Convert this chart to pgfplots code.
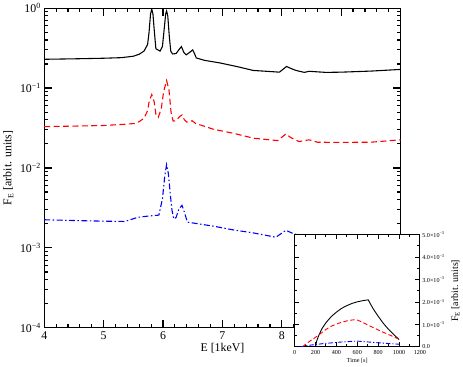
\documentclass[border=0pt]{standalone}
\usepackage{fontspec}
\setmainfont{Liberation Serif}
\usepackage{pgfplots}
\pgfplotsset{compat=1.18}

% main spectrum curves (E in keV, flux)
\pgfplotstableread{
x y
4.0 0.229
4.5 0.232
5.0 0.236
5.3 0.240
5.5 0.250
5.6 0.265
5.68 0.29
5.74 0.35
5.765 0.5
5.79 0.85
5.81 0.97
5.83 0.85
5.855 0.5
5.88 0.31
5.95 0.29
5.99 0.33
6.02 0.55
6.045 0.85
6.06 0.92
6.08 0.8
6.105 0.45
6.13 0.29
6.16 0.267
6.22 0.27
6.28 0.31
6.31 0.33
6.35 0.28
6.39 0.26
6.45 0.28
6.5 0.30
6.53 0.27
6.56 0.238
6.7 0.222
6.96 0.206
7.24 0.186
7.52 0.166
7.8 0.161
7.96 0.158
8.08 0.186
8.16 0.175
8.24 0.166
8.38 0.157
8.46 0.162
8.74 0.157
9.0 0.158
9.5 0.163
10.0 0.171
}\blackE
\pgfplotstableread{
x y
4.0 0.0329
4.5 0.0334
5.0 0.0340
5.35 0.0352
5.52 0.036
5.6 0.038
5.68 0.042
5.74 0.052
5.77 0.07
5.81 0.083
5.85 0.068
5.88 0.047
5.92 0.043
5.97 0.055
6.01 0.09
6.06 0.124
6.1 0.095
6.135 0.05
6.17 0.0386
6.22 0.039
6.28 0.044
6.32 0.046
6.36 0.040
6.40 0.0375
6.45 0.038
6.49 0.039
6.55 0.036
6.63 0.0345
6.85 0.0305
7.2 0.027
7.52 0.0236
7.93 0.022
8.07 0.0267
8.15 0.024
8.29 0.0214
8.46 0.0225
8.6 0.021
8.9 0.0209
9.5 0.021
10.0 0.0225
}\redE
\pgfplotstableread{
x y
4.0 0.00225
4.5 0.00220
5.0 0.00216
5.35 0.00214
5.45 0.00225
5.57 0.00241
5.75 0.0025
5.93 0.00257
5.99 0.0041
6.03 0.008
6.06 0.011
6.09 0.0085
6.12 0.0049
6.15 0.003
6.18 0.0023
6.22 0.0024
6.27 0.0031
6.32 0.0034
6.36 0.0028
6.41 0.0021
6.85 0.00187
7.2 0.00167
7.5 0.00155
7.9 0.00136
8.07 0.00166
8.2 0.0015
8.5 0.00135
9.0 0.0013
10.0 0.0012
}\blueE

% light curves (inset)
\pgfplotstableread{
t f
200 0
210 0.00025
230 0.0005
260 0.0008
300 0.00108
350 0.00135
400 0.00155
450 0.00172
500 0.00184
550 0.00194
600 0.00201
650 0.00206
705 0.00210
720 0.00197
750 0.00172
800 0.00137
850 0.00105
900 0.00078
950 0.00055
1000 0.00033
}\blackT
\pgfplotstableread{
t f
75 0
100 0.0001
150 0.00027
200 0.00043
250 0.0006
300 0.00078
350 0.00092
400 0.00102
450 0.0011
500 0.00116
550 0.0012
590 0.00122
650 0.0011
700 0.00098
750 0.00087
800 0.00076
850 0.00065
900 0.00055
950 0.00045
1000 0.00034
}\redT
\pgfplotstableread{
t f
50 0
150 0.00008
278 0.00015
450 0.00022
595 0.00026
785 0.00019
1000 0.00012
}\blueT

\begin{document}
\begin{tikzpicture}
\begin{axis}[
  name=main,
  scale only axis, width=360bp, height=323bp,
  xmin=4, xmax=10, ymode=log, ymin=1e-4, ymax=1,
  xtick={4,5,...,10}, minor x tick num=4,
  ytick={1e-4,1e-3,1e-2,1e-1,1},
  yticklabels={10\textsuperscript{−4},10\textsuperscript{−3},10\textsuperscript{−2},10\textsuperscript{−1},10\textsuperscript{0}},
  /pgf/number format/assume math mode=true,
  tick align=inside, xtick pos=both, ytick pos=both,
  major tick length=8bp, minor tick length=4bp,
  axis line style={line width=1.1pt},
  tick style={black, line width=1.2pt},
  tick label style={font=\fontsize{12}{14}\selectfont},
  label style={font=\fontsize{12}{14}\selectfont},
  xlabel={E [1keV]},
  ylabel={F\textsubscript{E} [arbit. units]},
  xlabel style={yshift=3bp},
]
\addplot[black, line width=1.1pt] table[x=x,y=y] {\blackE};
\addplot[red, line width=1.1pt, dash pattern=on 6bp off 3.5bp] table[x=x,y=y] {\redE};
\addplot[blue, line width=1.1pt, dash pattern=on 6bp off 2.5bp on 1.5bp off 2.5bp] table[x=x,y=y] {\blueE};
\end{axis}

\begin{axis}[
  at={(253bp,-19.3bp)}, anchor=south west,
  scale only axis, width=126.5bp, height=113.3bp,
  axis background/.style={fill=white},
  xmin=0, xmax=1200, ymin=0, ymax=0.005,
  xtick={0,200,...,1200}, minor x tick num=1,
  ytick={0,0.001,0.002,0.003,0.004,0.005}, minor y tick num=1,
  yticklabels={0.0,1.0×10\textsuperscript{−3},2.0×10\textsuperscript{−3},3.0×10\textsuperscript{−3},4.0×10\textsuperscript{−3},5.0×10\textsuperscript{−3}},
  scaled y ticks=false,
  /pgf/number format/assume math mode=true,
  /pgf/number format/1000 sep={},
  tick align=inside, xtick pos=both, ytick pos=both,
  yticklabel pos=right,
  major tick length=4.5bp, minor tick length=2.5bp,
  axis line style={line width=0.9pt},
  tick style={black, line width=1pt},
  tick label style={font=\fontsize{6.2}{7}\selectfont},
  label style={font=\fontsize{6.2}{7}\selectfont},
  xticklabel style={yshift=-0.5bp},
  yticklabel style={xshift=-1bp},
  xlabel={Time [s]},
  ylabel={F\textsubscript{E} [arbit. units]},
  ylabel near ticks,
  xlabel style={yshift=4bp},
]
\addplot[black, line width=0.9pt] table[x=t,y=f] {\blackT};
\addplot[red, line width=0.9pt, dash pattern=on 4.5bp off 2.5bp] table[x=t,y=f] {\redT};
\addplot[blue, line width=0.9pt, dash pattern=on 4.5bp off 2bp on 1.2bp off 2bp] table[x=t,y=f] {\blueT};
\end{axis}
\end{tikzpicture}
\end{document}
